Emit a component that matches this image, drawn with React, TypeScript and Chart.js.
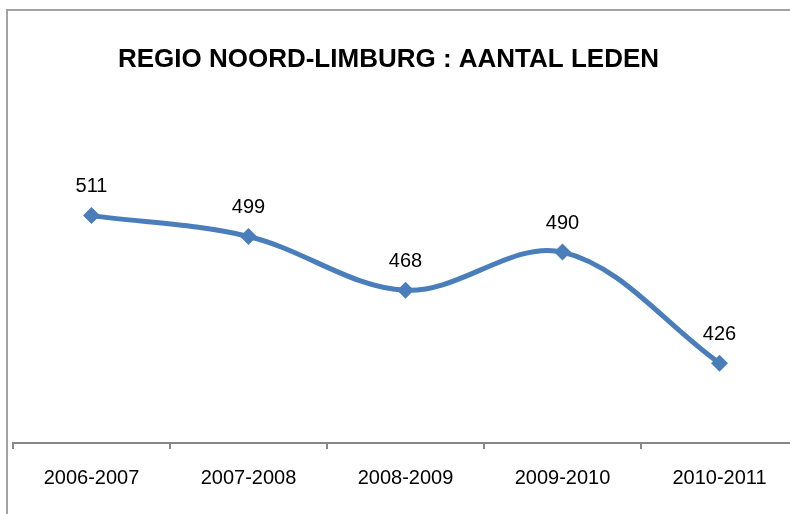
import React, { useEffect, useRef } from "react";
import { Chart, registerables } from "chart.js";

Chart.register(...registerables);

const categories = ["2006-2007", "2007-2008", "2008-2009", "2009-2010", "2010-2011"];
const members = [511, 499, 468, 490, 426];
const titleText = "REGIO NOORD-LIMBURG : AANTAL LEDEN";
const yMin = 380;
const yMax = 520;

const LINE_COLOR = "#4A7EBB";
const AXIS_COLOR = "#878787";
const FONT = "'Liberation Sans', Arial, sans-serif";

const decorPlugin = {
  id: "decor",
  beforeDraw(chart: any) {
    const ctx = chart.ctx;
    ctx.save();
    ctx.fillStyle = "#ffffff";
    ctx.fillRect(0, 0, chart.width, chart.height);
    ctx.strokeStyle = "#a3a3a3";
    ctx.lineWidth = 2;
    ctx.beginPath();
    ctx.moveTo(7, chart.height);
    ctx.lineTo(7, 10);
    ctx.lineTo(chart.width, 10);
    ctx.stroke();
    ctx.restore();
  },
  afterDraw(chart: any) {
    const ctx = chart.ctx;
    ctx.save();
    ctx.fillStyle = "#000000";
    ctx.font = `bold 26px ${FONT}`;
    ctx.textAlign = "center";
    ctx.textBaseline = "alphabetic";
    ctx.fillText(titleText, 388.5, 67);
    ctx.restore();
  },
  afterDatasetsDraw(chart: any) {
    const ctx = chart.ctx;
    const meta = chart.getDatasetMeta(0);
    ctx.save();
    ctx.fillStyle = "#000000";
    ctx.font = `20px ${FONT}`;
    ctx.textAlign = "center";
    ctx.textBaseline = "alphabetic";
    meta.data.forEach((pt: any, i: number) => {
      ctx.fillText(String(chart.data.datasets[0].data[i]), pt.x, pt.y - 23.5);
    });
    ctx.restore();
  },
};

export default function App() {
  const canvasRef = useRef<HTMLCanvasElement | null>(null);

  useEffect(() => {
    const canvas = canvasRef.current;
    if (!canvas) return;
    const chart = new Chart(canvas, {
      type: "line",
      data: {
        labels: categories,
        datasets: [
          {
            data: members,
            borderColor: LINE_COLOR,
            backgroundColor: LINE_COLOR,
            borderWidth: 5,
            tension: 0.35,
            pointStyle: "rectRot",
            pointRadius: 8.5,
            pointBorderWidth: 0,
            pointBackgroundColor: LINE_COLOR,
            fill: false,
          },
        ],
      },
      options: {
        responsive: false,
        animation: false,
        devicePixelRatio: 1,
        layout: { padding: { left: 13, right: 22, top: 200, bottom: 0 } },
        plugins: {
          legend: { display: false },
          title: { display: false },
          tooltip: { enabled: false },
        },
        scales: {
          x: {
            type: "category",
            offset: true,
            grid: {
              display: true,
              offset: true,
              drawOnChartArea: false,
              drawTicks: true,
              tickLength: 6,
              color: AXIS_COLOR,
              lineWidth: 2,
            },
            border: { display: true, color: AXIS_COLOR, width: 2 },
            ticks: {
              color: "#000000",
              font: { family: FONT, size: 20 },
              padding: 17,
              maxRotation: 0,
              autoSkip: false,
            },
            afterFit(scale: any) {
              scale.height = 71;
            },
          },
          y: {
            display: false,
            min: yMin,
            max: yMax,
          },
        },
      },
      plugins: [decorPlugin],
    });
    return () => chart.destroy();
  }, []);

  return (
    <div
      style={{
        position: "absolute",
        left: 0,
        top: 0,
        width: 790,
        height: 514,
        overflow: "hidden",
        background: "#ffffff",
      }}
    >
      <canvas
        ref={canvasRef}
        width={820}
        height={514}
        style={{ display: "block", width: 820, height: 514 }}
      />
    </div>
  );
}
